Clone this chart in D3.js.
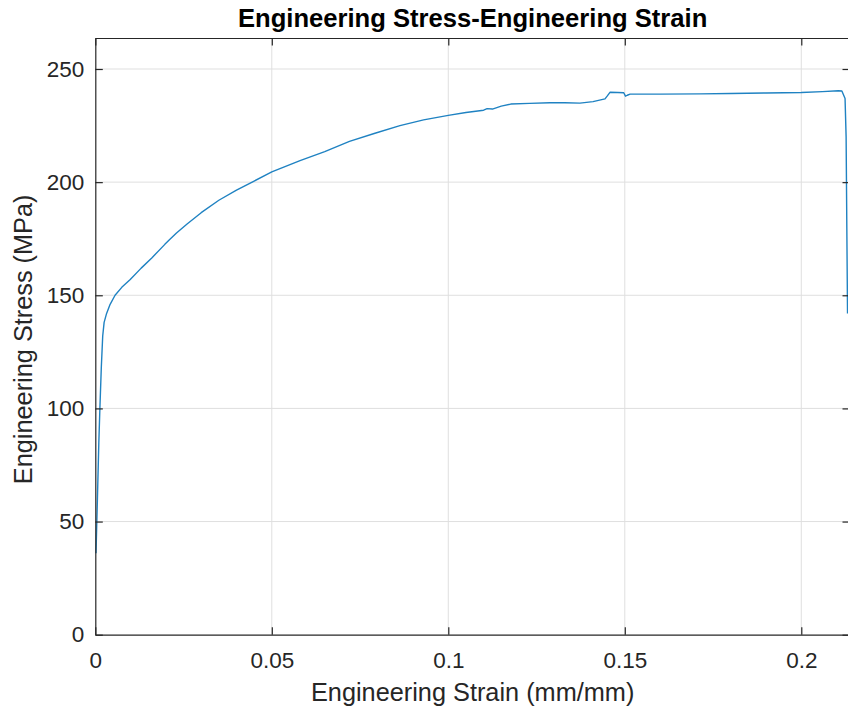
<!DOCTYPE html>
<html>
<head>
<meta charset="utf-8">
<script src="https://cdn.jsdelivr.net/npm/d3@7"></script>
<style>
  body { margin: 0; background: #fff; }
  text { font-family: "Liberation Sans", Arial, Helvetica, sans-serif; fill: #262626; }
</style>
</head>
<body>
<svg id="chart" width="848" height="715"></svg>
<script>
// strain (mm/mm) and stress (MPa)
const strain = [0.0002, 0.0006, 0.0010, 0.0013, 0.0017, 0.0021, 0.0025, 0.0032, 0.0042, 0.0056,
  0.0075, 0.0099, 0.0130, 0.0160, 0.0197, 0.0210, 0.0230, 0.0260, 0.0300, 0.0350,
  0.0400, 0.0450, 0.0500, 0.0580, 0.0650, 0.0720, 0.0790, 0.0863, 0.0930, 0.1000,
  0.1050, 0.1100, 0.1110, 0.1125, 0.1150, 0.1177, 0.1230, 0.1288, 0.1330, 0.1373,
  0.1410, 0.1444, 0.1450, 0.1458, 0.1480, 0.1497, 0.1502, 0.1507, 0.1515, 0.1600,
  0.1713, 0.1800, 0.1900, 0.2000, 0.2060, 0.2105, 0.2115, 0.2124, 0.2127, 0.2129, 0.2131];
const stress = [36, 60, 85, 100, 118, 132, 138, 142, 146, 150,
  153.5, 157, 162, 166.5, 172.5, 174.5, 177.5, 181.5, 186.5, 192,
  196.5, 200.5, 204.5, 209.5, 213.5, 218, 221.5, 225, 227.5, 229.5,
  230.8, 231.8, 232.5, 232.3, 233.6, 234.5, 234.8, 235.1, 235.1, 234.9,
  235.6, 236.8, 238, 239.7, 239.6, 239.5, 238, 238.4, 238.9, 238.9,
  239, 239.2, 239.4, 239.6, 240, 240.4, 240.3, 237, 220, 180, 142];

const xTicks = [0, 0.05, 0.1, 0.15, 0.2];
const yTicks = [0, 50, 100, 150, 200, 250];
const xDomain = [0, 0.2138];
const yDomain = [0, 263.7];

const title = 'Engineering Stress-Engineering Strain';
const xLabel = 'Engineering Strain (mm/mm)';
const yLabel = 'Engineering Stress (MPa)';

const mLeft = 95.3, mTop = 38, mRight = 850, mBottom = 634.7;
const axisColor = '#262626', gridColor = '#dfdfdf', lineColor = '#1f82c2';
const tickLen = 7.5;

const svg = d3.select('#chart');

const x = d3.scaleLinear().domain(xDomain).range([mLeft, mRight]);
const y = d3.scaleLinear().domain(yDomain).range([mBottom, mTop]);

// grid
const grid = svg.append('g').attr('class', 'grid');
grid.selectAll('line.gx').data(xTicks.slice(1)).enter().append('line')
    .attr('x1', d => x(d)).attr('x2', d => x(d))
    .attr('y1', mTop).attr('y2', mBottom)
    .attr('stroke', gridColor).attr('stroke-width', 1);
grid.selectAll('line.gy').data(yTicks.slice(1)).enter().append('line')
    .attr('x1', mLeft).attr('x2', mRight)
    .attr('y1', d => y(d)).attr('y2', d => y(d))
    .attr('stroke', gridColor).attr('stroke-width', 1);

// data line
const line = d3.line().x((d, i) => x(strain[i])).y(d => y(d));
svg.append('path')
    .datum(stress)
    .attr('d', line)
    .attr('fill', 'none')
    .attr('stroke', lineColor)
    .attr('stroke-width', 1.4)
    .attr('stroke-linejoin', 'round');

// axes, ticks pointing inward
const xAxis = d3.axisBottom(x).tickValues(xTicks).tickFormat(d3.format('~g'))
    .tickSizeInner(-tickLen).tickSizeOuter(0).tickPadding(17);
const yAxis = d3.axisLeft(y).tickValues(yTicks).tickFormat(d3.format('~g'))
    .tickSizeInner(-tickLen).tickSizeOuter(0).tickPadding(11);
const xTop = d3.axisTop(x).tickValues(xTicks).tickFormat('').tickSizeInner(-tickLen).tickSizeOuter(0);
const yRight = d3.axisRight(y).tickValues(yTicks).tickFormat('').tickSizeInner(-tickLen).tickSizeOuter(0);

const styleAxis = g => {
  g.select('.domain').attr('stroke', axisColor).attr('stroke-width', 1.2);
  g.selectAll('.tick line').attr('stroke', axisColor).attr('stroke-width', 1.2);
  g.selectAll('.tick text').attr('fill', axisColor)
      .style('font-family', '"Liberation Sans", Arial, sans-serif').style('font-size', '22.5px');
};

svg.append('g').attr('transform', `translate(0,${mBottom})`).call(xAxis).call(styleAxis);
svg.append('g').attr('transform', `translate(${mLeft},0)`).call(yAxis).call(styleAxis);
svg.append('g').attr('transform', `translate(0,${mTop})`).call(xTop).call(styleAxis);
svg.append('g').attr('transform', `translate(${mRight},0)`).call(yRight).call(styleAxis);

// labels
svg.append('text')
    .attr('x', (mLeft + mRight) / 2).attr('y', 27)
    .attr('text-anchor', 'middle')
    .style('font-size', '25.6px').style('font-weight', 'bold')
    .style('fill', '#000')
    .text(title);

svg.append('text')
    .attr('x', (mLeft + mRight) / 2).attr('y', 701)
    .attr('text-anchor', 'middle')
    .style('font-size', '25.3px')
    .text(xLabel);

svg.append('text')
    .attr('transform', `translate(32,${(mTop + mBottom) / 2 + 3}) rotate(-90)`)
    .attr('text-anchor', 'middle')
    .style('font-size', '25.3px')
    .text(yLabel);
</script>
</body>
</html>
